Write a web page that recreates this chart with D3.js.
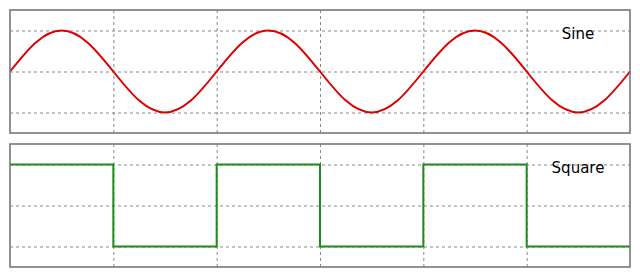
<!DOCTYPE html>
<html>
<head>
<meta charset="utf-8">
<script src="https://cdn.jsdelivr.net/npm/d3@7"></script>
<style>
  html, body { margin: 0; padding: 0; background: #fff; }
  svg { display: block; }
</style>
</head>
<body>
<div id="chart"></div>
<script>
// Data: x in grid units (6 columns), y in grid units
const sineX = [0, 0.25, 0.5, 0.75, 1, 1.25, 1.5, 1.75, 2, 2.25, 2.5, 2.75, 3,
               3.25, 3.5, 3.75, 4, 4.25, 4.5, 4.75, 5, 5.25, 5.5, 5.75, 6];
const sineY = [0, 0.71, 1, 0.71, 0, -0.71, -1, -0.71, 0, 0.71, 1, 0.71, 0,
               -0.71, -1, -0.71, 0, 0.71, 1, 0.71, 0, -0.71, -1, -0.71, 0];
const squareX = [0, 1, 2, 3, 4, 5, 6];
const squareY = [1, -1, 1, -1, 1, -1, -1];

const xTicks = [1, 2, 3, 4, 5];
const yTicks = [-1, 0, 1];
const panelNames = ['Sine', 'Square'];

const width = 640, height = 274;
const left = 10, right = 630;
const panelTops = [10, 144];
const panelHeight = 123;

const svg = d3.select('#chart')
    .append('svg')
    .attr('width', width)
    .attr('height', height);

const x = d3.scaleLinear().domain([0, 6]).range([left, right]);

function drawPanel(i, xs, ys, color, curve) {
    const top = panelTops[i];
    const y = d3.scaleLinear().domain([-1.5, 1.5]).range([top + panelHeight, top]);
    const g = svg.append('g');

    // Grid
    g.append('g')
        .call(d3.axisBottom(x).tickValues(xTicks).tickSize(-panelHeight).tickFormat(''))
        .attr('transform', `translate(0,${top + panelHeight})`)
        .call(a => a.select('.domain').remove())
        .selectAll('line')
        .attr('stroke', '#888')
        .attr('stroke-dasharray', '3,3');

    g.append('g')
        .call(d3.axisLeft(y).tickValues(yTicks).tickSize(-(right - left)).tickFormat(''))
        .attr('transform', `translate(${left},0)`)
        .call(a => a.select('.domain').remove())
        .selectAll('line')
        .attr('stroke', '#888')
        .attr('stroke-dasharray', '3,3');

    // Series
    const pts = xs.map((d, k) => [d, ys[k]]);
    g.append('path')
        .datum(pts)
        .attr('fill', 'none')
        .attr('stroke', color)
        .attr('stroke-width', 2)
        .attr('d', d3.line().x(d => x(d[0])).y(d => y(d[1])).curve(curve));

    // Frame
    g.append('rect')
        .attr('x', left)
        .attr('y', top)
        .attr('width', right - left)
        .attr('height', panelHeight)
        .attr('fill', 'none')
        .attr('stroke', '#777')
        .attr('stroke-width', 1.6);

    // Label
    g.append('text')
        .attr('x', 578)
        .attr('y', top + 29)
        .attr('text-anchor', 'middle')
        .attr('font-family', 'DejaVu Sans')
        .attr('font-size', 15)
        .attr('fill', '#000')
        .text(panelNames[i]);
}

drawPanel(0, sineX, sineY, '#dd0000', d3.curveNatural);
drawPanel(1, squareX, squareY, '#1c8c1c', d3.curveStepAfter);
</script>
</body>
</html>
